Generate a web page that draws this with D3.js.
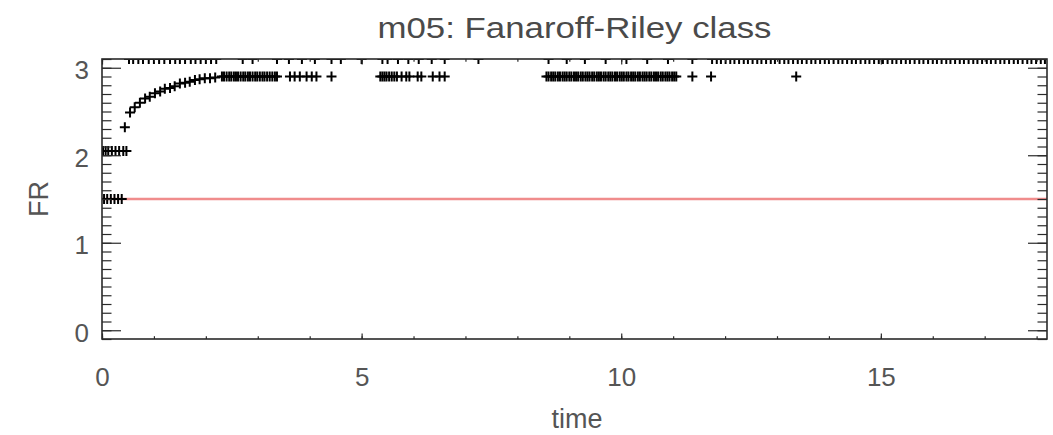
<!DOCTYPE html>
<html>
<head>
<meta charset="utf-8">
<script src="https://cdn.jsdelivr.net/npm/d3@7"></script>
<style>
  html, body { margin: 0; padding: 0; background: #fff; }
  svg { display: block; }
  text { font-family: "Liberation Sans", Arial, Helvetica, sans-serif; }
</style>
</head>
<body>
<svg id="chart" width="1053" height="435"></svg>
<script>
// Fanaroff-Riley class over time for model m05
const titleText = "m05: Fanaroff-Riley class";
const xLabel = "time";
const yLabel = "FR";
const xMajorTicks = [0, 5, 10, 15];
const yMajorTicks = [0, 1, 2, 3];
const frBoundary = 1.5;

// early samples sitting on the FR I/II boundary
const boundaryTimes = [0.04, 0.1, 0.17, 0.24, 0.31, 0.38];
const boundaryLevel = 1.5;

// early samples at FR ~2
const lowTimes = [0.02, 0.07, 0.12, 0.19, 0.26, 0.33, 0.41, 0.47];
const lowLevel = 2.05;

// rise towards the plateau
const riseTimes = [0.44, 0.54, 0.63, 0.73, 0.83, 0.92, 1.02, 1.12, 1.21, 1.31, 1.40, 1.50, 1.60, 1.69, 1.79, 1.88, 1.98, 2.08, 2.18];
const riseFR    = [2.32, 2.49, 2.55, 2.60, 2.65, 2.67, 2.71, 2.73, 2.76, 2.77, 2.79, 2.82, 2.83, 2.84, 2.86, 2.87, 2.88, 2.88, 2.89];

// plateau samples at FR ~2.9
const plateauTimes = [
  2.31, 2.35, 2.40, 2.45, 2.49, 2.54, 2.58, 2.62, 2.67, 2.72, 2.76, 2.81, 2.85, 2.90, 2.95, 2.99,
  3.04, 3.09, 3.13, 3.18, 3.23, 3.28, 3.33, 3.37,
  3.62, 3.71, 3.81, 3.94, 4.04, 4.13, 4.42,
  5.36, 5.40, 5.44, 5.48, 5.53, 5.58, 5.63, 5.68, 5.77, 5.86, 5.92, 6.08, 6.15, 6.37, 6.50, 6.60,
  8.56, 8.60, 8.65, 8.69, 8.73, 8.78, 8.82, 8.87, 8.91, 8.95, 9.00, 9.04, 9.09, 9.13, 9.17, 9.22,
  9.26, 9.31, 9.35, 9.39, 9.44, 9.48, 9.53, 9.57, 9.61, 9.66, 9.70, 9.75, 9.79, 9.83, 9.88, 9.92,
  9.97, 10.01, 10.05, 10.10, 10.14, 10.19, 10.23, 10.27, 10.32, 10.36, 10.41, 10.45, 10.49, 10.54,
  10.58, 10.63, 10.67, 10.71, 10.76, 10.80, 10.85, 10.89, 10.93, 10.98, 11.02, 11.06,
  11.37, 11.73, 13.37
];
const plateauLevel = 2.9;

// samples at the upper edge of the range
const topTimes = [
  0.52, 0.60, 0.70, 0.79, 0.90, 1.00, 1.10, 1.20, 1.31, 1.41, 1.50, 1.60, 1.71, 1.80, 1.90, 2.00, 2.10, 2.20,
  2.71, 2.90, 3.37, 3.60, 3.85, 4.10, 4.42, 4.60, 5.00, 5.40, 5.50, 5.70, 5.90, 6.10, 6.35, 6.60, 7.25,
  8.60, 8.95, 9.30, 9.70, 10.10, 10.50, 10.90, 11.37,
  11.75, 11.84, 11.92, 12.01, 12.10, 12.18, 12.27, 12.36, 12.44, 12.53, 12.62, 12.70, 12.79, 12.88,
  12.96, 13.05, 13.14, 13.22, 13.31, 13.40, 13.48, 13.57, 13.66, 13.74, 13.83, 13.92, 14.00, 14.09,
  14.18, 14.26, 14.35, 14.44, 14.52, 14.61, 14.70, 14.78, 14.87, 14.96, 15.04, 15.13, 15.22, 15.30,
  15.39, 15.48, 15.56, 15.65, 15.74, 15.82, 15.91, 16.00, 16.08, 16.17, 16.26, 16.34, 16.43, 16.52,
  16.60, 16.69, 16.78, 16.86, 16.95, 17.04, 17.12, 17.21, 17.30, 17.38, 17.47, 17.56, 17.64, 17.73,
  17.82, 17.90, 17.99, 18.08, 18.16
];
const topLevel = 3.1;

const svg = d3.select("#chart");
const W = 1053, H = 435;
const plot = { left: 102, right: 1047, top: 59, bottom: 339 };

svg.append("rect").attr("width", W).attr("height", H).attr("fill", "#fff");

const x = d3.scaleLinear().domain([0, 18.2]).range([plot.left, plot.right]);
const y = d3.scaleLinear().domain([-0.1, 3.1]).range([plot.bottom, plot.top]);

const axisColor = "#2a2a2a";
const textColor = "#555";

// clip region for the data
svg.append("clipPath").attr("id", "plotClip")
  .append("rect")
  .attr("x", plot.left).attr("y", plot.top)
  .attr("width", plot.right - plot.left).attr("height", plot.bottom - plot.top);

// FR boundary line
svg.append("line")
  .attr("x1", plot.left).attr("x2", plot.right)
  .attr("y1", y(frBoundary)).attr("y2", y(frBoundary))
  .attr("stroke", "#f08c8c").attr("stroke-width", 2.5);

// points
const pts = [];
boundaryTimes.forEach(t => pts.push([t, boundaryLevel]));
lowTimes.forEach(t => pts.push([t, lowLevel]));
riseTimes.forEach((t, i) => pts.push([t, riseFR[i]]));
plateauTimes.forEach(t => pts.push([t, plateauLevel]));
topTimes.forEach(t => pts.push([t, topLevel]));

const s = 5;
svg.append("g").attr("clip-path", "url(#plotClip)")
  .selectAll("path").data(pts).join("path")
  .attr("transform", d => `translate(${x(d[0])},${y(d[1])})`)
  .attr("d", `M${-s},0H${s}M0,${-s}V${s}`)
  .attr("stroke", "#000").attr("stroke-width", 2).attr("fill", "none");

// axes (ticks point inward on all four sides)
function styleAxis(g) {
  g.select(".domain").remove();
  g.selectAll(".tick line").attr("stroke", axisColor).attr("stroke-width", 1.2);
  g.selectAll(".tick text").attr("fill", textColor).attr("font-size", 26)
    .attr("font-family", "'Liberation Sans', Arial, sans-serif");
}
const xMinor = d3.range(0, 19, 1);
const yMinor = d3.range(-1, 32, 1).map(v => +(v / 10).toFixed(1));

svg.append("g").attr("transform", `translate(0,${plot.bottom})`)
  .call(d3.axisBottom(x).tickValues(xMinor).tickSize(-2.8).tickFormat(""))
  .call(styleAxis);
svg.append("g").attr("transform", `translate(0,${plot.bottom})`)
  .call(d3.axisBottom(x).tickValues(xMajorTicks).tickSize(-5.6).tickPadding(29).tickFormat(d3.format("d")))
  .call(styleAxis);
svg.append("g").attr("transform", `translate(0,${plot.top})`)
  .call(d3.axisTop(x).tickValues(xMinor).tickSize(-2.8).tickFormat(""))
  .call(styleAxis);
svg.append("g").attr("transform", `translate(0,${plot.top})`)
  .call(d3.axisTop(x).tickValues(xMajorTicks).tickSize(-5.6).tickFormat(""))
  .call(styleAxis);

svg.append("g").attr("transform", `translate(${plot.left},0)`)
  .call(d3.axisLeft(y).tickValues(yMinor).tickSize(-9.5).tickFormat(""))
  .call(styleAxis);
svg.append("g").attr("transform", `translate(${plot.left},0)`)
  .call(d3.axisLeft(y).tickValues(yMajorTicks).tickSize(-19).tickPadding(13).tickFormat(d3.format("d")))
  .call(styleAxis)
  .call(g => g.selectAll(".tick text").attr("dy", "0.42em"));
svg.append("g").attr("transform", `translate(${plot.right},0)`)
  .call(d3.axisRight(y).tickValues(yMinor).tickSize(-9.5).tickFormat(""))
  .call(styleAxis);
svg.append("g").attr("transform", `translate(${plot.right},0)`)
  .call(d3.axisRight(y).tickValues(yMajorTicks).tickSize(-19).tickFormat(""))
  .call(styleAxis);

// frame
svg.append("rect")
  .attr("x", plot.left).attr("y", plot.top)
  .attr("width", plot.right - plot.left).attr("height", plot.bottom - plot.top)
  .attr("fill", "none").attr("stroke", axisColor).attr("stroke-width", 1.6);

// title and axis labels
svg.append("text")
  .attr("x", (plot.left + plot.right) / 2).attr("y", 38)
  .attr("text-anchor", "middle").attr("font-size", 30).attr("fill", "#4a4a4a")
  .attr("textLength", 394).attr("lengthAdjust", "spacingAndGlyphs")
  .text(titleText);

svg.append("text")
  .attr("x", 577).attr("y", 428)
  .attr("text-anchor", "middle").attr("font-size", 27).attr("fill", textColor)
  .text(xLabel);

svg.append("text")
  .attr("transform", `translate(48,${y(frBoundary)}) rotate(-90)`)
  .attr("text-anchor", "middle").attr("font-size", 27).attr("fill", textColor)
  .text(yLabel);
</script>
</body>
</html>
